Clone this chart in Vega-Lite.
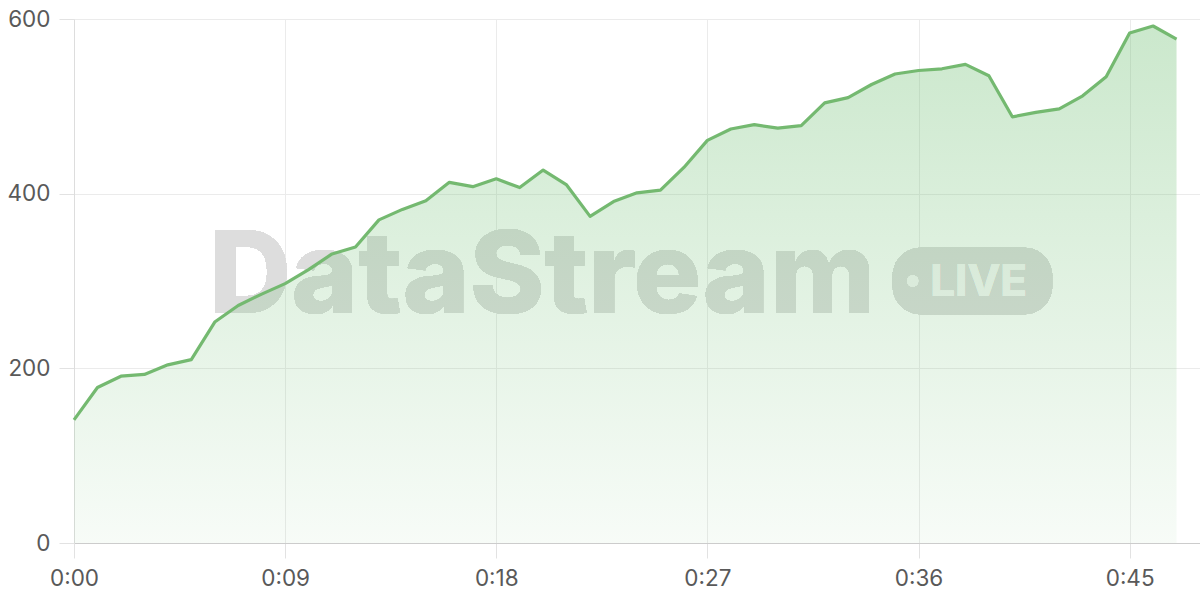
{
  "$schema": "https://vega.github.io/schema/vega-lite/v6.json",
  "width": 1126,
  "height": 524,
  "autosize": {"type": "none"},
  "padding": {"left": 74, "top": 19, "right": 0, "bottom": 57},
  "background": "#ffffff",
  "config": {
    "view": {"stroke": null},
    "font": "Inter",
    "axis": {
      "labelFont": "Inter",
      "labelFontSize": 22.5,
      "labelColor": "#595959",
      "gridColor": "#ebebeb",
      "gridWidth": 1,
      "tickColor": "#e2e2e2",
      "tickSize": 15,
      "domainColor": "#cfcfcf",
      "title": null
    }
  },
  "data": {
    "values": [
      {"t": 0, "value": 141},
      {"t": 1, "value": 178},
      {"t": 2, "value": 191},
      {"t": 3, "value": 193},
      {"t": 4, "value": 204},
      {"t": 5, "value": 210},
      {"t": 6, "value": 253},
      {"t": 7, "value": 272},
      {"t": 8, "value": 285},
      {"t": 9, "value": 297},
      {"t": 10, "value": 313},
      {"t": 11, "value": 331},
      {"t": 12, "value": 339},
      {"t": 13, "value": 370},
      {"t": 14, "value": 382},
      {"t": 15, "value": 392},
      {"t": 16, "value": 413},
      {"t": 17, "value": 408},
      {"t": 18, "value": 417},
      {"t": 19, "value": 407},
      {"t": 20, "value": 427},
      {"t": 21, "value": 410},
      {"t": 22, "value": 374},
      {"t": 23, "value": 391},
      {"t": 24, "value": 401},
      {"t": 25, "value": 404},
      {"t": 26, "value": 430},
      {"t": 27, "value": 461},
      {"t": 28, "value": 474},
      {"t": 29, "value": 479},
      {"t": 30, "value": 475},
      {"t": 31, "value": 478},
      {"t": 32, "value": 504},
      {"t": 33, "value": 510},
      {"t": 34, "value": 525},
      {"t": 35, "value": 537},
      {"t": 36, "value": 541},
      {"t": 37, "value": 543},
      {"t": 38, "value": 548},
      {"t": 39, "value": 535},
      {"t": 40, "value": 488},
      {"t": 41, "value": 493},
      {"t": 42, "value": 497},
      {"t": 43, "value": 512},
      {"t": 44, "value": 534},
      {"t": 45, "value": 584},
      {"t": 46, "value": 592},
      {"t": 47, "value": 577}
    ]
  },
  "encoding": {
    "x": {
      "field": "t",
      "type": "quantitative",
      "scale": {"domain": [0, 48], "nice": false, "zero": false},
      "axis": {
        "values": [0, 9, 18, 27, 36, 45],
        "labelExpr": "'0:' + (datum.value < 10 ? '0' : '') + datum.value",
        "labelPadding": 9,
        "labelFlush": false,
        "domainColor": "#cccccc"
      }
    },
    "y": {
      "field": "value",
      "type": "quantitative",
      "scale": {"domain": [0, 600], "nice": false},
      "axis": {
        "values": [0, 200, 400, 600],
        "labelPadding": 9,
        "domainColor": "#dddddd"
      }
    }
  },
  "layer": [
    {
      "mark": {
        "type": "text",
        "text": "DataStream",
        "font": "Inter",
        "fontWeight": 800,
        "fontSize": 114,
        "align": "left",
        "baseline": "alphabetic",
        "color": "#dddddd"
      },
      "encoding": {
        "x": {"datum": 5.75, "type": "quantitative"},
        "y": {"datum": 263, "type": "quantitative"}
      }
    },
    {
      "mark": {
        "type": "rect",
        "cornerRadius": 28,
        "color": "#dcdcdc"
      },
      "encoding": {
        "x": {"datum": 34.9, "type": "quantitative"},
        "x2": {"datum": 41.7},
        "y": {"datum": 338, "type": "quantitative"},
        "y2": {"datum": 262}
      }
    },
    {
      "mark": {
        "type": "point",
        "shape": "circle",
        "filled": true,
        "size": 130,
        "opacity": 1,
        "color": "#f7f7f7"
      },
      "encoding": {
        "x": {"datum": 35.75, "type": "quantitative"},
        "y": {"datum": 300, "type": "quantitative"}
      }
    },
    {
      "mark": {
        "type": "text",
        "text": "LIVE",
        "font": "Inter",
        "fontWeight": "bold",
        "fontSize": 44,
        "align": "left",
        "baseline": "alphabetic",
        "color": "#f7f7f7"
      },
      "encoding": {
        "x": {"datum": 36.5, "type": "quantitative"},
        "y": {"datum": 283, "type": "quantitative"}
      }
    },
    {
      "mark": {
        "type": "area",
        "color": {
          "gradient": "linear",
          "x1": 0, "y1": 0, "x2": 0, "y2": 1,
          "stops": [
            {"offset": 0, "color": "rgba(102,187,106,0.34)"},
            {"offset": 1, "color": "rgba(102,187,106,0.05)"}
          ]
        }
      }
    },
    {
      "mark": {"type": "line", "color": "#74b970", "strokeWidth": 3.2, "strokeJoin": "round"}
    }
  ]
}
